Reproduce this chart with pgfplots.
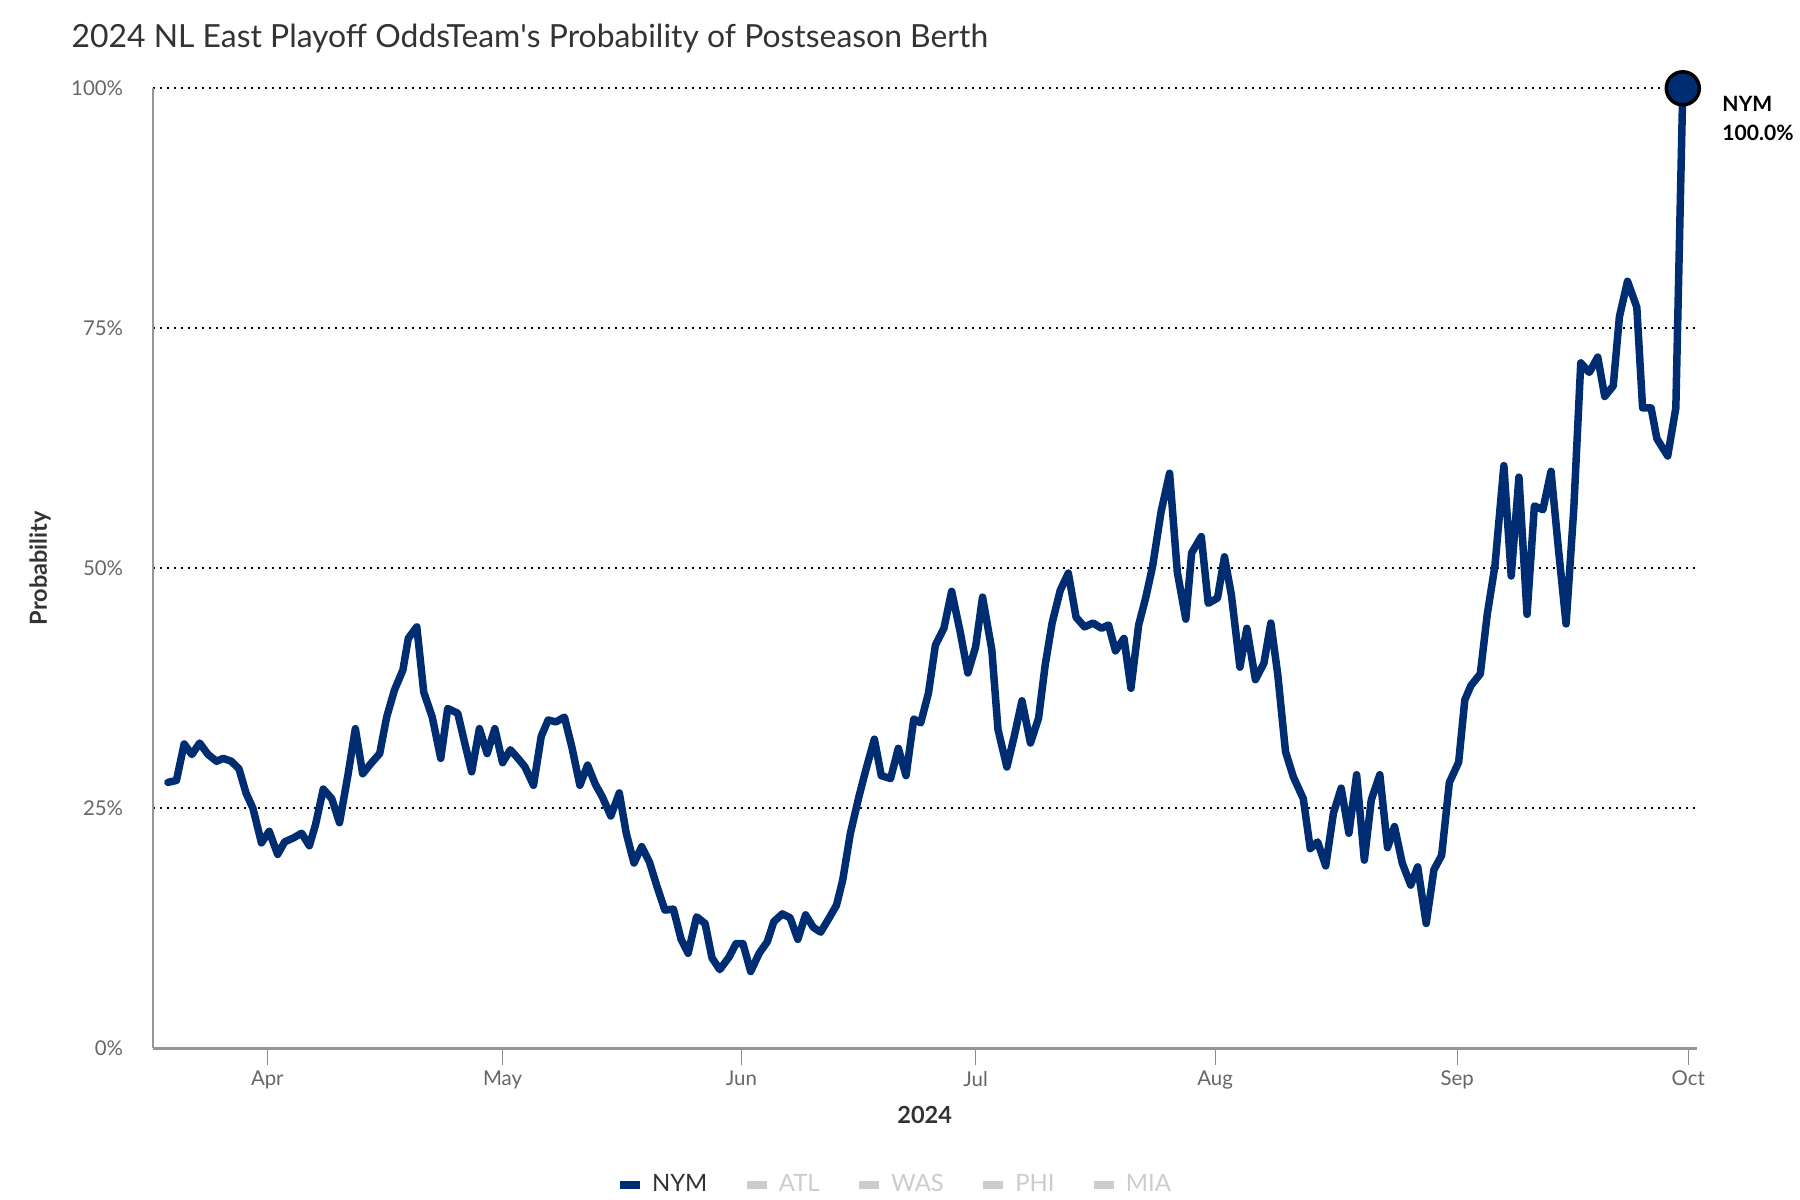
\documentclass[border=0pt]{standalone}
\usepackage{pgfplots}
\pgfplotsset{compat=1.18}
\usepackage{fontspec}
\setmainfont{Lato}
\definecolor{nym}{RGB}{0,45,114}
\definecolor{axisgray}{RGB}{150,150,150}
\definecolor{tickgray}{RGB}{140,140,140}
\definecolor{labelgray}{RGB}{102,102,102}
\definecolor{titlegray}{RGB}{51,51,51}
\definecolor{leggray}{RGB}{204,204,204}
\begin{document}
\begin{tikzpicture}
\useasboundingbox (-1.527,-1.517) rectangle (16.473,10.483);
\begin{axis}[
  at={(0,0)}, anchor=south west,
  width=15.44cm, height=9.6cm, scale only axis,
  xmin=-14.97, xmax=184.8, ymin=0, ymax=100,
  clip=false,
  axis x line*=bottom, axis y line*=left,
  x axis line style={draw=axisgray, line width=0.03cm},
  y axis line style={draw=axisgray, line width=0.02cm},
  xtick={-0.14,30.3,61.2,91.5,122.5,153.8,183.7},
  xticklabels={Apr,May,Jun,Jul,Aug,Sep,Oct},
  ytick={0,25,50,75,100},
  yticklabels={0\%,25\%,50\%,75\%,100\%},
  ymajorgrids,
  grid style={black, line width=0.02cm, dash pattern=on 0.02cm off 0.05cm},
  tick align=outside, major tick length=0.17cm,
  xtick style={draw=tickgray, line width=0.012cm},
  ytick style={draw=none},
  ticklabel style={font=\fontsize{5.8}{7}\selectfont, text=labelgray},
  xticklabel style={anchor=north, inner sep=0pt, yshift=-0.05cm},
  yticklabel style={anchor=east, inner sep=0pt, xshift=-0.12cm},
  xlabel={2024}, ylabel={Probability},
  label style={font=\bfseries\fontsize{6.7}{8}\selectfont, text=titlegray},
  xlabel style={at={(axis description cs:0.5,0)}, anchor=center, yshift=-0.667cm},
  ylabel style={at={(axis description cs:0,0.5)}, anchor=center, yshift=1.127cm},
  legend columns=-1,
  legend style={draw=none, fill=none, at={(0.485,-0.1426)}, anchor=center,
    font=\fontsize{6.8}{8}\selectfont,
    nodes={inner xsep=0.12cm, inner ysep=0pt},
    /tikz/every even column/.append style={column sep=0.274cm}},
  legend image code/.code={\fill[#1, draw=none] (0cm,-0.04cm) rectangle (0.2cm,0.04cm);},
]
\addplot[color=nym, line width=0.075cm, line join=round, line cap=round, mark=none] coordinates {
(-13.0,27.7) (-11.9,27.9) (-10.9,31.7) (-9.9,30.6) (-8.9,31.8) (-7.8,30.6) (-6.7,29.9) (-5.85,30.2) (-4.8,29.9) (-3.8,29.1) (-2.9,26.6) (-2.0,25.0) (-0.9,21.4) (0.1,22.6) (1.2,20.2) (2.1,21.5) (3.2,21.9) (4.3,22.4) (5.3,21.1) (6.1,23.3) (7.1,27.0) (8.2,26.0) (9.2,23.5) (10.3,28.5) (11.25,33.3) (12.2,28.6) (13.3,29.7) (14.4,30.7) (15.3,34.5) (16.3,37.3) (17.4,39.4) (18.1,42.7) (19.2,43.9) (20.1,37.1) (21.2,34.5) (22.3,30.2) (23.2,35.4) (24.5,34.9) (25.4,31.8) (26.3,28.8) (27.3,33.3) (28.3,30.7) (29.3,33.3) (30.3,29.75) (31.3,31.1) (32.3,30.2) (33.2,29.3) (34.3,27.4) (35.3,32.5) (36.2,34.2) (37.2,34.0) (38.3,34.5) (39.3,31.25) (40.3,27.4) (41.3,29.5) (42.3,27.5) (43.2,26.2) (44.3,24.2) (45.4,26.6) (46.3,22.4) (47.3,19.3) (48.3,21.0) (49.3,19.4) (50.3,16.8) (51.3,14.4) (52.4,14.5) (53.4,11.35) (54.3,9.9) (55.4,13.7) (56.5,13.0) (57.4,9.4) (58.4,8.2) (59.6,9.5) (60.5,10.9) (61.4,10.9) (62.4,8.0) (63.5,9.9) (64.55,11.1) (65.4,13.2) (66.5,14.0) (67.5,13.6) (68.5,11.35) (69.5,13.9) (70.5,12.6) (71.45,12.1) (72.5,13.5) (73.5,14.9) (74.3,17.5) (75.3,22.4) (76.4,26.2) (77.3,29.0) (78.4,32.2) (79.3,28.4) (80.5,28.1) (81.5,31.25) (82.5,28.4) (83.5,34.3) (84.4,33.9) (85.4,37.0) (86.3,42.0) (87.4,43.75) (88.4,47.6) (89.5,43.4) (90.5,39.1) (91.5,41.8) (92.4,47.0) (93.6,41.5) (94.4,33.2) (95.55,29.3) (96.5,32.5) (97.5,36.2) (98.6,31.8) (99.65,34.4) (100.5,39.9) (101.4,44.3) (102.45,47.7) (103.5,49.5) (104.5,44.9) (105.6,43.9) (106.7,44.3) (107.8,43.75) (108.7,44.1) (109.6,41.4) (110.7,42.7) (111.6,37.5) (112.6,44.1) (113.5,46.9) (114.4,50.2) (115.5,55.9) (116.6,59.9) (117.6,49.6) (118.7,44.7) (119.45,51.6) (120.7,53.3) (121.6,46.35) (122.8,46.9) (123.7,51.2) (124.6,47.2) (125.7,39.7) (126.6,43.75) (127.7,38.4) (128.8,40.1) (129.7,44.3) (130.6,38.9) (131.6,30.9) (132.6,28.3) (133.9,26.0) (134.8,20.8) (135.75,21.5) (136.8,19.0) (137.8,24.5) (138.8,27.1) (139.8,22.4) (140.8,28.5) (141.8,19.6) (142.7,25.9) (143.8,28.5) (144.8,20.9) (145.7,23.1) (146.7,19.3) (147.8,17.0) (148.7,18.9) (149.8,13.0) (150.8,18.6) (151.8,20.1) (152.8,27.7) (154.0,29.8) (154.8,36.3) (155.6,37.8) (156.8,39.0) (157.7,45.2) (158.7,50.3) (159.85,60.7) (160.8,49.2) (161.8,59.5) (162.85,45.2) (163.8,56.5) (164.9,56.1) (165.95,60.1) (166.9,52.1) (167.9,44.2) (168.9,56.25) (169.8,71.4) (170.9,70.4) (172.0,72.0) (172.9,67.9) (174.0,69.0) (174.8,76.2) (175.85,79.9) (177.05,77.2) (177.8,66.7) (178.9,66.7) (179.65,63.5) (181.05,61.7) (182.1,66.7) (183.0,100)
};
\addlegendentry{\textcolor{titlegray}{NYM}}
\addlegendimage{color=leggray}
\addlegendentry{\textcolor{leggray}{ATL}}
\addlegendimage{color=leggray}
\addlegendentry{\textcolor{leggray}{WAS}}
\addlegendimage{color=leggray}
\addlegendentry{\textcolor{leggray}{PHI}}
\addlegendimage{color=leggray}
\addlegendentry{\textcolor{leggray}{MIA}}
\addplot[forget plot, only marks, mark=*, mark size=0.165cm, mark options={fill=nym, draw=black, line width=0.035cm}] coordinates {(183.0,100)};
\node[anchor=west, align=left, inner sep=0pt, font=\bfseries\fontsize{6}{8.2}\selectfont, text=black] at (axis cs:183.0,100) [xshift=0.39cm, yshift=-0.3cm] {NYM\\100.0\%};
\end{axis}
\node[anchor=base west, inner sep=0pt, font=\fontsize{9.07}{11}\selectfont, text=titlegray] at (-0.817,10.003) {2024 NL East Playoff OddsTeam\textquotesingle s Probability of Postseason Berth};
\end{tikzpicture}
\end{document}
